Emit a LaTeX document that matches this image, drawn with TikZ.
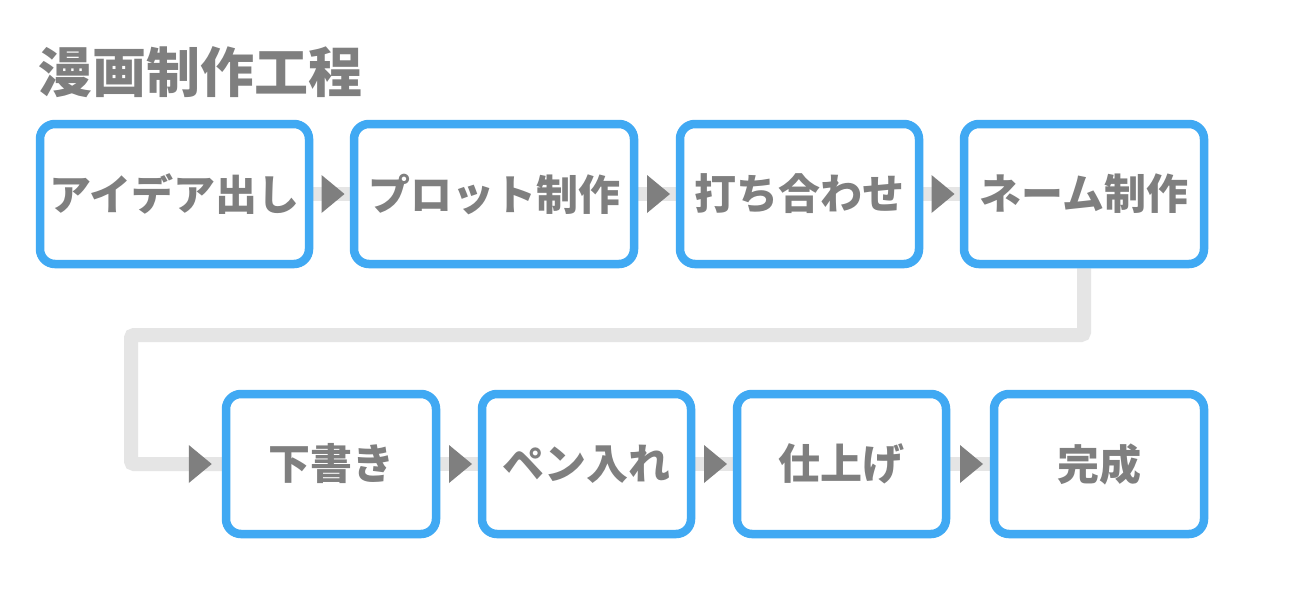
\documentclass[tikz,border=0pt]{standalone}
\usepackage{fontspec}
\newfontfamily\cjk{Noto Sans CJK JP}
\usetikzlibrary{calc,backgrounds}
\definecolor{boxblue}{HTML}{40A9F3}
\definecolor{textgray}{HTML}{7F7F7F}
\definecolor{flowgray}{HTML}{E5E5E5}
\definecolor{arrowgray}{HTML}{7F7F7F}
\begin{document}
\begin{tikzpicture}[x=1pt,y=-1pt,
  stepbox/.style={draw=boxblue, line width=8.5pt, rounded corners=15pt, fill=white,
    minimum height=140pt, inner sep=0pt, text=textgray,
    font=\cjk\bfseries\fontsize{42}{50}\selectfont},
  flow/.style={draw=flowgray, line width=14pt, rounded corners=3pt},
  tri/.style={fill=arrowgray}]
\useasboundingbox (0,0) rectangle (1300,598);
\node[anchor=west, text=textgray, font=\cjk\bfseries\fontsize{54}{62}\selectfont, inner sep=0pt] (title) at (38,72) {漫画制作工程};
% top row
\node[stepbox, minimum width=269pt] (b1) at (174.5,194) {アイデア出し};
\node[stepbox, minimum width=280pt] (b2) at (494,194) {プロット制作};
\node[stepbox, minimum width=239pt] (b3) at (799.5,194) {打ち合わせ};
\node[stepbox, minimum width=240pt] (b4) at (1084,194) {ネーム制作};
% bottom row
\node[stepbox, minimum width=210pt] (b5) at (331,464) {下書き};
\node[stepbox, minimum width=209pt] (b6) at (586.5,464) {ペン入れ};
\node[stepbox, minimum width=209pt] (b7) at (841.5,464) {仕上げ};
\node[stepbox, minimum width=210pt] (b8) at (1099,464) {完成};
\coordinate (turn) at (131,335);
\begin{scope}[on background layer]
  \fill[white] (0,0) rectangle (1300,598);
  \draw[flow] (b1.east) -- (b2.west);
  \draw[flow] (b2.east) -- (b3.west);
  \draw[flow] (b3.east) -- (b4.west);
  \draw[flow] (b4.south) |- (turn) |- (b5.west);
  \draw[flow] (b5.east) -- (b6.west);
  \draw[flow] (b6.east) -- (b7.west);
  \draw[flow] (b7.east) -- (b8.west);
\end{scope}
% arrow heads
\foreach \a/\b in {b1/b2,b2/b3,b3/b4,b5/b6,b6/b7,b7/b8}{
  \fill[tri] ($(\a.east)!0.5!(\b.west)+(-10,-19)$) -- ++(23,19) -- ++(-23,19) -- cycle;
}
\fill[tri] ($(b5.west)+(-33,-19)$) -- ++(23,19) -- ++(-23,19) -- cycle;
\end{tikzpicture}
\end{document}
